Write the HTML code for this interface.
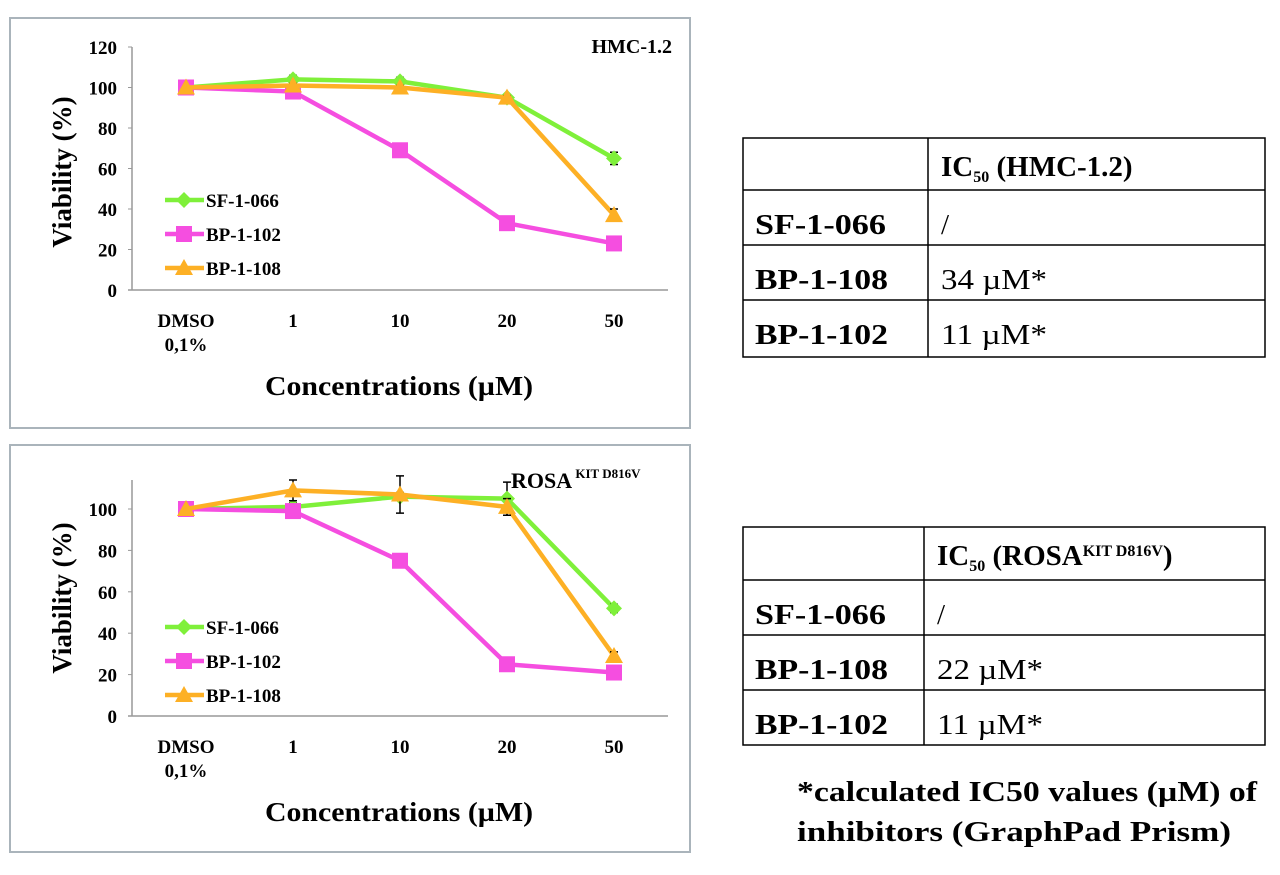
<!DOCTYPE html>
<html><head><meta charset="utf-8"><style>
body{margin:0;background:#fff;width:1280px;height:870px;overflow:hidden}
svg text{font-family:"Liberation Serif",serif;font-weight:bold;fill:#000}
svg text.n{font-weight:normal}
</style></head><body>
<svg id="s" width="1280" height="870" viewBox="0 0 1280 870">
<rect x="10" y="18" width="680" height="410" fill="none" stroke="#aab4bb" stroke-width="2"/>
<rect x="10" y="445" width="680" height="407" fill="none" stroke="#aab4bb" stroke-width="2"/>
<g id="c1"></g>
<g id="c2"></g>
<text x="672" y="53" font-size="20" text-anchor="end">HMC-1.2</text>
<text x="511" y="488" font-size="22">ROSA<tspan font-size="13" dy="-10"> KIT D816V</tspan></text>

<g font-size="29">
<rect x="743" y="138" width="522" height="219" fill="none" stroke="#000" stroke-width="1.5"/>
<line x1="928" y1="138" x2="928" y2="357" stroke="#000" stroke-width="1.5"/>
<line x1="743" y1="190" x2="1265" y2="190" stroke="#000" stroke-width="1.5"/>
<line x1="743" y1="245" x2="1265" y2="245" stroke="#000" stroke-width="1.5"/>
<line x1="743" y1="300" x2="1265" y2="300" stroke="#000" stroke-width="1.5"/>
<text x="941" y="176">IC<tspan font-size="16" dy="6">50</tspan><tspan dy="-6"> (HMC-1.2)</tspan></text>
<text x="755" y="234" textLength="131" lengthAdjust="spacingAndGlyphs">SF-1-066</text><text class="n" x="941" y="234">/</text>
<text x="755" y="289" textLength="133" lengthAdjust="spacingAndGlyphs">BP-1-108</text><text class="n" x="941" y="289" textLength="106" lengthAdjust="spacingAndGlyphs">34 µM*</text>
<text x="755" y="344" textLength="133" lengthAdjust="spacingAndGlyphs">BP-1-102</text><text class="n" x="941" y="344" textLength="106" lengthAdjust="spacingAndGlyphs">11 µM*</text>
</g>
<g font-size="29">
<rect x="743" y="527" width="522" height="218" fill="none" stroke="#000" stroke-width="1.5"/>
<line x1="924" y1="527" x2="924" y2="745" stroke="#000" stroke-width="1.5"/>
<line x1="743" y1="580" x2="1265" y2="580" stroke="#000" stroke-width="1.5"/>
<line x1="743" y1="635" x2="1265" y2="635" stroke="#000" stroke-width="1.5"/>
<line x1="743" y1="690" x2="1265" y2="690" stroke="#000" stroke-width="1.5"/>
<text x="937" y="565">IC<tspan font-size="16" dy="6">50</tspan><tspan dy="-6"> (ROSA</tspan><tspan font-size="16" dy="-9">KIT D816V</tspan><tspan dy="9">)</tspan></text>
<text x="755" y="624" textLength="131" lengthAdjust="spacingAndGlyphs">SF-1-066</text><text class="n" x="937" y="624">/</text>
<text x="755" y="679" textLength="133" lengthAdjust="spacingAndGlyphs">BP-1-108</text><text class="n" x="937" y="679" textLength="106" lengthAdjust="spacingAndGlyphs">22 µM*</text>
<text x="755" y="734" textLength="133" lengthAdjust="spacingAndGlyphs">BP-1-102</text><text class="n" x="937" y="734" textLength="106" lengthAdjust="spacingAndGlyphs">11 µM*</text>
</g>
<text x="797" y="801" font-size="29" textLength="460" lengthAdjust="spacingAndGlyphs">*calculated IC50 values (µM) of</text>
<text x="797" y="841" font-size="29" textLength="434" lengthAdjust="spacingAndGlyphs">inhibitors (GraphPad Prism)</text>
</svg>
<script>
const categories=["DMSO","1","10","20","50"];
const seriesNames=["SF-1-066","BP-1-102","BP-1-108"];
const hmcSF=[100,104,103,95,65];
const hmcBP102=[100,98,69,33,23];
const hmcBP108=[100,101,100,95,37];
const hmcErrSF=[0,2,2,1,3];
const hmcErrBP102=[0,3,1,1,1];
const hmcErrBP108=[0,1,1,1,3];
const rosaSF=[100,101,106,105,52];
const rosaBP102=[100,99,75,25,21];
const rosaBP108=[100,109,107,101,29];
const rosaErrSF=[0,2,2,8,2];
const rosaErrBP102=[0,3,1,1,1];
const rosaErrBP108=[0,5,9,4,2];
const hmcTicks=[0,20,40,60,80,100,120];
const rosaTicks=[0,20,40,60,80,100];
const colors=["#7ff03a","#f54ee0","#fdb025"];
const NS="http://www.w3.org/2000/svg";
function mk(p,t,a){const e=document.createElementNS(NS,t);for(const k in a)e.setAttribute(k,a[k]);p.appendChild(e);return e;}
function draw(g,cfg){
 const y=v=>cfg.y0-(v/20)*cfg.step;
 const x=i=>186+i*107;
 mk(g,'line',{x1:132,y1:cfg.top,x2:132,y2:cfg.y0,stroke:'#999','stroke-width':1.5});
 mk(g,'line',{x1:128,y1:cfg.y0,x2:668,y2:cfg.y0,stroke:'#999','stroke-width':1.5});
 cfg.ticks.forEach(t=>{
  mk(g,'line',{x1:128,y1:y(t),x2:132,y2:y(t),stroke:'#999'});
  const tx=mk(g,'text',{x:117,y:y(t)+7,'text-anchor':'end','font-size':19});tx.textContent=t;
  
  
 });
 categories.forEach((c,i)=>{
  const tx=mk(g,'text',{x:x(i),y:cfg.y0+37,'text-anchor':'middle','font-size':19});tx.textContent=c;
  
  
 });
 const t2=mk(g,'text',{x:x(0),y:cfg.y0+61,'text-anchor':'middle','font-size':19});t2.textContent="0,1%";
 
 
 const xt=mk(g,'text',{x:265,y:cfg.y0+105,'font-size':27,textLength:268,lengthAdjust:'spacingAndGlyphs'});xt.textContent="Concentrations (µM)";
 
 
 const yt=mk(g,'text',{x:0,y:0,'text-anchor':'middle','font-size':27,transform:`translate(71,${cfg.ymid}) rotate(-90)`});yt.textContent="Viability (%)";
 
 
 cfg.series.forEach((s,si)=>{
  const c=colors[si];
  const pl=mk(g,'polyline',{points:s.map((v,i)=>x(i)+','+y(v)).join(' '),fill:'none',stroke:c,'stroke-width':4.5});
  
  
  s.forEach((v,i)=>{
   const e=cfg.err[si][i];
   if(e>0){const eg=mk(g,'path',{d:`M${x(i)},${y(v+e)}V${y(v-e)}M${x(i)-4},${y(v+e)}h8M${x(i)-4},${y(v-e)}h8`,stroke:'#000','stroke-width':1.5,fill:'none'});
    
    }
   const m=marker(g,si,x(i),y(v),c);
   
   
  });
 });
 seriesNames.forEach((n,si)=>{
  const ly=cfg.leg+si*34;
  const lg=mk(g,'g',{});
  
  
  mk(lg,'line',{x1:165,y1:ly,x2:204,y2:ly,stroke:colors[si],'stroke-width':4.5});
  marker(lg,si,184,ly,colors[si]);
  const tx=mk(lg,'text',{x:206,y:ly+7,'font-size':19});tx.textContent=n;
 });
}
function marker(g,si,cx,cy,c){
 if(si===0)return mk(g,'path',{d:`M${cx},${cy-8}L${cx+8},${cy}L${cx},${cy+8}L${cx-8},${cy}Z`,fill:c});
 if(si===1)return mk(g,'rect',{x:cx-8,y:cy-8,width:16,height:16,fill:c});
 return mk(g,'path',{d:`M${cx},${cy-9}L${cx+9},${cy+7}L${cx-9},${cy+7}Z`,fill:c});
}
draw(document.getElementById('c1'),{y0:290,step:40.5,top:47,ymid:172,ticks:hmcTicks,leg:200,
 series:[hmcSF,hmcBP102,hmcBP108],err:[hmcErrSF,hmcErrBP102,hmcErrBP108]});
draw(document.getElementById('c2'),{y0:716,step:41.4,top:480,ymid:598,ticks:rosaTicks,leg:627,
 series:[rosaSF,rosaBP102,rosaBP108],err:[rosaErrSF,rosaErrBP102,rosaErrBP108]});
</script>
</body></html>
